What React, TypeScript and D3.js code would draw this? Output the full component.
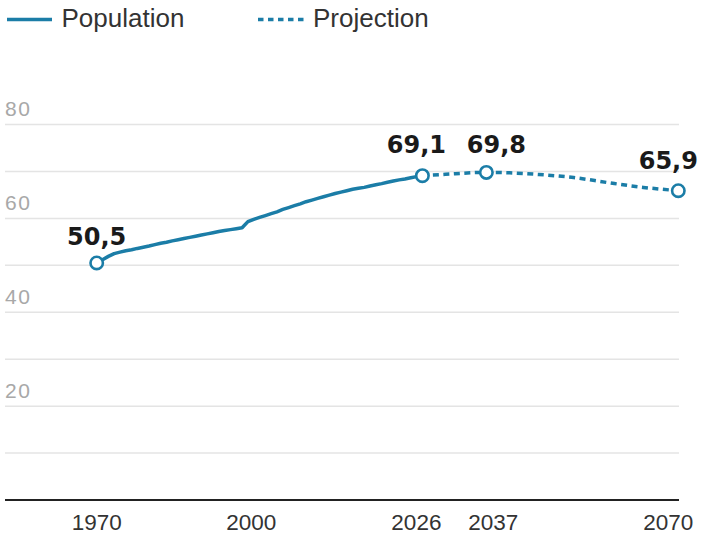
import { useMemo } from "react";
import * as d3 from "d3";

const WIDTH = 704;
const HEIGHT = 537;
const COLOR = "#1b7da7";

// observed population (millions)
const histYears = [
  1970, 1971, 1972, 1973, 1974, 1975, 1976, 1977, 1978, 1979, 1980, 1981, 1982, 1983, 1984,
  1985, 1986, 1987, 1988, 1989, 1990, 1991, 1992, 1993, 1994, 1995, 1996, 1997, 1998, 1999,
  2000, 2001, 2002, 2003, 2004, 2005, 2006, 2007, 2008, 2009, 2010, 2011, 2012, 2013, 2014,
  2015, 2016, 2017, 2018, 2019, 2020, 2021, 2022, 2023, 2024, 2025, 2026,
];
const histValues = [
  50.5, 51.2, 51.9, 52.5, 52.8, 53.1, 53.3, 53.6, 53.85, 54.1, 54.4, 54.7, 54.9, 55.2, 55.45,
  55.7, 55.95, 56.2, 56.45, 56.7, 56.95, 57.2, 57.4, 57.6, 57.8, 58.0, 59.3, 59.8, 60.2, 60.6,
  61.0, 61.4, 61.9, 62.3, 62.7, 63.1, 63.55, 63.9, 64.25, 64.6, 64.95, 65.3, 65.6, 65.9, 66.2,
  66.4, 66.6, 66.9, 67.15, 67.4, 67.7, 67.95, 68.2, 68.4, 68.65, 68.9, 69.1,
];

// projection
const projYears = [2026, 2030, 2037, 2041, 2046, 2052, 2058, 2064, 2070];
const projValues = [69.1, 69.4, 69.8, 69.7, 69.35, 68.7, 67.6, 66.6, 65.9];

// highlighted points
const keyYears = [1970, 2026, 2037, 2070];
const keyValues = [50.5, 69.1, 69.8, 65.9];
const keyLabels = ["50,5", "69,1", "69,8", "65,9"];
const keyLabelDx = [0, -6, 10, -10];
const keyLabelDy = [-18, -23, -19, -22];

// axes
const xTickYears = [1970, 2000, 2026, 2037, 2070];
const xTickDx = [0, -20, -6, 7, -10];
const yGridValues = [10, 20, 30, 40, 50, 60, 70, 80];
const yLabelValues = [20, 40, 60, 80];

const App = () => {
  const xScale = useMemo(
    () => d3.scaleLinear().domain([1970, 2070]).range([96.7, 678.3]),
    []
  );
  const yScale = useMemo(
    () => d3.scaleLinear().domain([0, 80]).range([500, 124.5]),
    []
  );

  const histLine = d3
    .line<number>()
    .x((_, i) => xScale(histYears[i]))
    .y((v) => yScale(v));
  const projLine = d3
    .line<number>()
    .x((_, i) => xScale(projYears[i]))
    .y((v) => yScale(v))
    .curve(d3.curveMonotoneX);

  const left = 5;
  const right = 679;

  return (
    <div style={{ position: "absolute", left: 0, top: 0 }}>
      <svg width={WIDTH} height={HEIGHT} style={{ display: "block", background: "white" }}>
        {/* legend */}
        <line x1={7} x2={52} y1={19.5} y2={19.5} stroke={COLOR} strokeWidth={3.5} />
        <text x={61.5} y={27} fontFamily="Liberation Sans, Arial, sans-serif" fontSize={26} fill="#333">
          Population
        </text>
        <line
          x1={258}
          x2={306}
          y1={19.5}
          y2={19.5}
          stroke={COLOR}
          strokeWidth={3.5}
          strokeDasharray="5.5 4.5"
        />
        <text x={313} y={27} fontFamily="Liberation Sans, Arial, sans-serif" fontSize={26} fill="#333">
          Projection
        </text>

        {/* grid */}
        {yGridValues.map((v) => (
          <line
            key={v}
            x1={left}
            x2={right}
            y1={yScale(v)}
            y2={yScale(v)}
            stroke="#e4e4e4"
            strokeWidth={1.5}
          />
        ))}
        {yLabelValues.map((v) => (
          <text
            key={v}
            x={left}
            y={yScale(v) - 8.5}
            fontFamily="Liberation Sans, Arial, sans-serif"
            fontSize={21}
            letterSpacing={1.5}
            fill="#a8a8a8"
          >
            {v}
          </text>
        ))}
        <line x1={left} x2={right} y1={yScale(0)} y2={yScale(0)} stroke="#222" strokeWidth={2} />
        {xTickYears.map((yr, i) => (
          <text
            key={yr}
            x={xScale(yr) + xTickDx[i]}
            y={529.5}
            textAnchor="middle"
            fontFamily="Liberation Sans, Arial, sans-serif"
            fontSize={22.5}
            fill="#333"
          >
            {yr}
          </text>
        ))}

        {/* lines */}
        <path d={histLine(histValues) ?? ""} fill="none" stroke={COLOR} strokeWidth={3.5} strokeLinejoin="round" />
        <path
          d={projLine(projValues) ?? ""}
          fill="none"
          stroke={COLOR}
          strokeWidth={3.5}
          strokeDasharray="6 4.5"
        />

        {/* key points */}
        {keyYears.map((yr, i) => (
          <g key={yr}>
            <circle
              cx={xScale(yr)}
              cy={yScale(keyValues[i])}
              r={6.2}
              fill="white"
              stroke={COLOR}
              strokeWidth={2.6}
            />
            <text
              x={xScale(yr) + keyLabelDx[i]}
              y={yScale(keyValues[i]) + keyLabelDy[i]}
              textAnchor="middle"
              fontFamily="DejaVu Sans, sans-serif"
              fontWeight="bold"
              fontSize={24}
              fill="#1a1a1a"
            >
              {keyLabels[i]}
            </text>
          </g>
        ))}
      </svg>
    </div>
  );
};

export default App;
